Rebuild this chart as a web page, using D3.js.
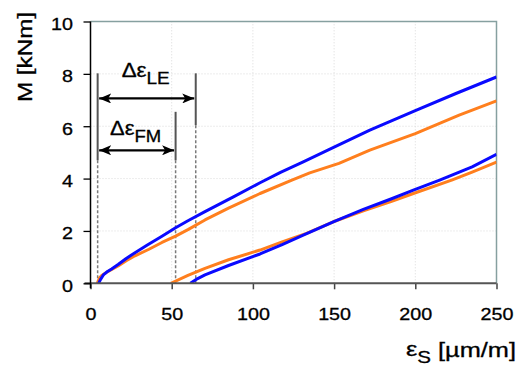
<!DOCTYPE html>
<html><head><meta charset="utf-8">
<script src="https://cdn.jsdelivr.net/npm/d3@7"></script>
<style>body{margin:0;background:#fff}svg{display:block}text{font-family:"Liberation Sans",Arial,sans-serif;fill:#000;stroke:#000;stroke-width:0.3px}</style>
</head><body><svg id="c" width="523" height="365"></svg>
<script>
// ---- data ----
const xTicks = [0, 50, 100, 150, 200, 250];
const yTicks = [0, 2, 4, 6, 8, 10];
const xLabel = ["ε", "S", " [µm/m]"];
const yLabel = "M [kNm]";

// loading curves (first loading)
const blueLoadX = [5, 6.2, 7.9, 10, 13, 17, 22, 27.4, 35, 44, 52.4, 60, 70.5, 88, 104.4, 117, 131, 150, 172, 200, 225, 250];
const blueLoadM = [0, 0.15, 0.32, 0.43, 0.55, 0.72, 0.95, 1.17, 1.46, 1.8, 2.12, 2.39, 2.74, 3.3, 3.84, 4.24, 4.64, 5.2, 5.85, 6.6, 7.25, 7.88];
const orangeLoadX = [4.2, 5.5, 6.9, 10, 17, 22, 27.4, 36, 44, 52.4, 60, 70.5, 85, 104.4, 124, 135, 153, 172, 200, 227, 250];
const orangeLoadM = [0, 0.2, 0.3, 0.42, 0.66, 0.86, 1.05, 1.3, 1.56, 1.8, 2.05, 2.42, 2.87, 3.43, 3.94, 4.22, 4.58, 5.09, 5.72, 6.42, 6.97];
// reloading curves
const blueReX = [61.5, 66, 70.5, 85, 104.4, 118, 131, 149.5, 168, 185, 198.8, 215, 235, 250];
const blueReM = [0, 0.18, 0.32, 0.68, 1.12, 1.48, 1.84, 2.35, 2.82, 3.22, 3.56, 3.94, 4.45, 4.93];
const orangeReX = [49.5, 60, 70.5, 85, 104.4, 118, 133, 149.5, 168, 185, 198.8, 222.4, 235, 250];
const orangeReM = [0, 0.3, 0.57, 0.9, 1.27, 1.58, 1.91, 2.35, 2.77, 3.12, 3.43, 3.94, 4.25, 4.63];

// annotation reference lines (strain position, solid top, solid bottom)
const refX = [4.4, 52.4, 64.8];
const refTop = [8.02, 6.55, 8.02];
const refSolidBottom = [4.7, 4.7, 6.04];
// dimension arrows
const arrowNames = ["LE", "FM"];
const arrowFrom = [0, 0];   // index into refX
const arrowTo = [2, 1];
const arrowM = [7.06, 5.08];
const arrowLabelM = [7.87, 5.65];

// ---- chart ----
const svg = d3.select("#c");
const x = d3.scaleLinear().domain([0, 250]).range([90.5, 496.5]);
const y = d3.scaleLinear().domain([0, 10]).range([283.3, 21.5]);
const BLUE = "#0a0aff", ORANGE = "#ff7f1e";

svg.append("defs").append("clipPath").attr("id", "clip")
  .append("rect").attr("x", x(0)).attr("y", y(10)).attr("width", x(250) - x(0)).attr("height", y(0) - y(10));

const mk = svg.select("defs").append("marker").attr("id", "ah")
  .attr("viewBox", "0 0 12 10").attr("refX", 12).attr("refY", 5)
  .attr("markerWidth", 12).attr("markerHeight", 10).attr("markerUnits", "userSpaceOnUse")
  .attr("orient", "auto-start-reverse");
mk.append("path").attr("d", "M0,0 L12,5 L0,10 L3,5 Z").attr("fill", "#000");

// grid
const grid = svg.append("g");
grid.selectAll(".gy").data(yTicks.filter(d => d > 0 && d < 10)).join("line")
  .attr("x1", x(0)).attr("x2", x(250)).attr("y1", d => y(d)).attr("y2", d => y(d))
  .attr("stroke", "#d9d9d9").attr("stroke-width", 1).attr("stroke-dasharray", "1,2");
grid.selectAll(".gx").data(xTicks.filter(d => d > 0 && d < 250)).join("line")
  .attr("y1", y(0)).attr("y2", y(10)).attr("x1", d => x(d)).attr("x2", d => x(d))
  .attr("stroke", "#d9d9d9").attr("stroke-width", 1).attr("stroke-dasharray", "1,2");

// frame top/right
svg.append("path")
  .attr("d", `M${x(0)},${y(10)} H${x(250)} V${y(0)}`)
  .attr("fill", "none").attr("stroke", "#86a0a0").attr("stroke-width", 1.5);

// reference lines
const ref = svg.append("g");
refX.forEach((v, i) => {
  ref.append("line").attr("x1", x(v)).attr("x2", x(v)).attr("y1", y(0)).attr("y2", y(refSolidBottom[i]))
    .attr("stroke", "#7a7a7a").attr("stroke-width", 1.5).attr("stroke-dasharray", "3,2");
  ref.append("line").attr("x1", x(v)).attr("x2", x(v)).attr("y1", y(refSolidBottom[i])).attr("y2", y(refTop[i]))
    .attr("stroke", "#555").attr("stroke-width", 2);
});

// curves
const line = d3.line().x(d => x(d[0])).y(d => y(d[1]));
const curves = [
  [orangeLoadX, orangeLoadM, ORANGE], [blueLoadX, blueLoadM, BLUE],
  [orangeReX, orangeReM, ORANGE], [blueReX, blueReM, BLUE]
];
const cg = svg.append("g").attr("clip-path", "url(#clip)");
curves.forEach(([xs, ms, col]) => {
  cg.append("path").datum(xs.map((v, i) => [v, ms[i]])).attr("d", line)
    .attr("fill", "none").attr("stroke", col).attr("stroke-width", 3).attr("stroke-linejoin", "round");
});

// arrows + labels
arrowNames.forEach((n, i) => {
  const x1 = x(refX[arrowFrom[i]]) + 1.5, x2 = x(refX[arrowTo[i]]) - 1.5, yy = y(arrowM[i]);
  svg.append("line").attr("x1", x1).attr("x2", x2).attr("y1", yy).attr("y2", yy)
    .attr("stroke", "#000").attr("stroke-width", 2.2)
    .attr("marker-start", "url(#ah)").attr("marker-end", "url(#ah)");
  const cx = (x1 + x2) / 2 - 1;
  const t = svg.append("text").attr("x", cx).attr("y", y(arrowLabelM[i]))
    .attr("text-anchor", "middle").attr("font-size", 19.5)
    .attr("textLength", i === 0 ? 48 : 51).attr("lengthAdjust", "spacingAndGlyphs");
  t.append("tspan").text("Δε");
  t.append("tspan").attr("font-size", 16.5).attr("dy", 6.5).text(n);
});

// axes
const xAxis = svg.append("g").attr("transform", `translate(0,${y(0)})`)
  .call(d3.axisBottom(x).tickValues(xTicks).tickSize(6).tickSizeOuter(0));
xAxis.select(".domain").remove();
xAxis.selectAll(".tick line").attr("stroke", "#444").attr("stroke-width", 1.5);
xAxis.selectAll(".tick text").attr("y", 36.7).attr("dy", 0).attr("font-size", 17)
  .attr("transform", "scale(1.16,1)").attr("fill", "#000");
svg.append("line").attr("x1", x(0) - 6).attr("x2", x(250)).attr("y1", y(0)).attr("y2", y(0))
  .attr("stroke", "#555").attr("stroke-width", 2);

const yAxis = svg.append("g").attr("transform", `translate(${x(0)},0)`)
  .call(d3.axisLeft(y).tickValues(yTicks).tickSize(7).tickSizeOuter(0));
yAxis.select(".domain").remove();
yAxis.selectAll(".tick line").attr("stroke", "#000").attr("stroke-width", 1.3);
yAxis.selectAll(".tick text").attr("x", -15.1).attr("dy", 0).attr("y", 7.8).attr("font-size", 17)
  .attr("transform", "scale(1.16,1)").attr("fill", "#000");
svg.append("line").attr("x1", x(0)).attr("x2", x(0)).attr("y1", y(10)).attr("y2", y(0) + 5)
  .attr("stroke", "#000").attr("stroke-width", 1.5);

// axis titles
svg.append("text").attr("transform", "translate(32,57) rotate(-90)")
  .attr("text-anchor", "middle").attr("font-size", 20)
  .attr("textLength", 90).attr("lengthAdjust", "spacingAndGlyphs").text(yLabel);

const xt = svg.append("text").attr("x", 406).attr("y", 355.5).attr("font-size", 21)
  .attr("textLength", 110).attr("lengthAdjust", "spacingAndGlyphs");
xt.append("tspan").text(xLabel[0]);
xt.append("tspan").attr("font-size", 17).attr("dy", 7).text(xLabel[1]);
xt.append("tspan").attr("dy", -5.5).text(xLabel[2]);
</script></body></html>
